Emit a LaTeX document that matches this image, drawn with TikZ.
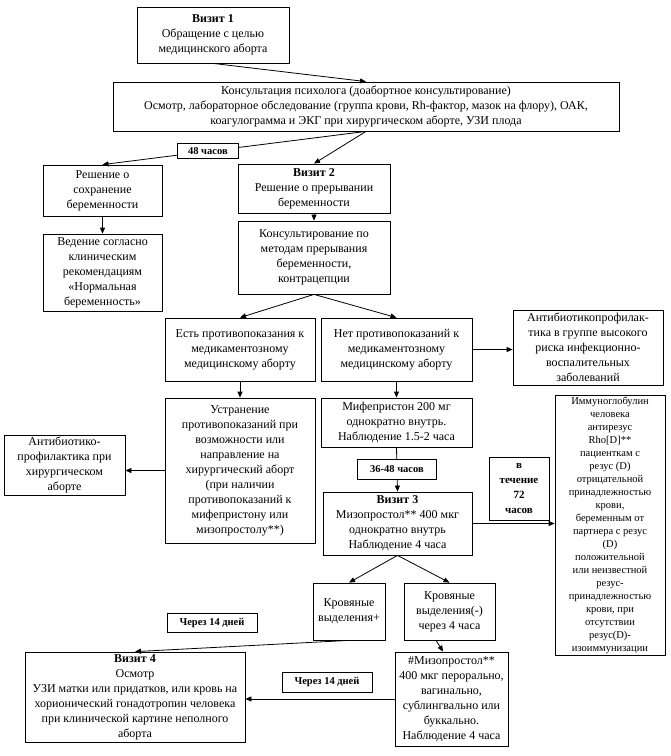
\documentclass[tikz,border=0pt]{standalone}
\usepackage{fontspec}
\setmainfont{Liberation Serif}
\usetikzlibrary{arrows.meta}

\tikzset{
  box/.style={draw,line width=.8pt,align=center,inner sep=0pt,
    font=\fontsize{12}{15}\selectfont},
  lbl/.style={draw,fill=white,line width=.8pt,inner sep=0pt,
    font=\fontsize{10.5}{13}\selectfont\bfseries},
  arr/.style={line width=.8pt,-{Triangle[length=6pt,width=5pt]}}
}

\begin{document}
\begin{tikzpicture}[x=1pt,y=-1pt]
  \useasboundingbox (0,0) rectangle (671,756);
  % visit 1 and counselling
  \node[box,minimum width=152pt,minimum height=56pt] (v1) at (213,35)
    {\textbf{Визит 1}\\Обращение с целью\\медицинского аборта};
  \node[box,minimum width=506pt,minimum height=49pt] (kons) at (366,106.5)
    {Консультация психолога (доабортное консультирование)\\
     Осмотр, лабораторное обследование (группа крови, Rh-фактор, мазок на флору), ОАК,\\
     коагулограмма и ЭКГ при хирургическом аборте, УЗИ плода};
  % left branch
  \node[box,minimum width=119pt,minimum height=51pt] (resh) at (102.5,190.5)
    {Решение о\\сохранение\\беременности};
  \node[box,minimum width=119pt,minimum height=77pt] (ved) at (102.5,272.5)
    {Ведение согласно\\клиническим\\рекомендациям\\«Нормальная\\беременность»};
  % visit 2
  \node[box,minimum width=152pt,minimum height=49pt] (v2) at (314,188.5)
    {\textbf{Визит 2}\\Решение о прерывании\\беременности};
  \node[box,minimum width=152pt,minimum height=73pt] (kmet) at (314,257.5)
    {Консультирование по\\методам прерывания\\беременности,\\контрацепции};
  \node[box,minimum width=150pt,minimum height=63pt] (est) at (240,349.5)
    {Есть противопоказания к\\медикаментозному\\медицинскому аборту};
  \node[box,minimum width=151pt,minimum height=63pt] (net) at (396.5,349.5)
    {Нет противопоказаний к\\медикаментозному\\медицинскому аборту};
  \node[box,minimum width=150pt,minimum height=75pt] (abr) at (588,347.5)
    {Антибиотикопрофилак-\\тика в группе высокого\\риска инфекционно-\\воспалительных\\заболеваний};
  \node[box,minimum width=150pt,minimum height=145pt] (ustr) at (240,470.5)
    {Устранение\\противопоказаний при\\возможности или\\направление на\\хирургический аборт\\(при наличии\\противопоказаний к\\мифепристону или\\мизопростолу**)};
  \node[box,minimum width=121pt,minimum height=60pt] (abl) at (64.5,465)
    {Антибиотико-\\профилактика при\\хирургическом\\аборте};
  \node[box,minimum width=151pt,minimum height=49pt] (mif) at (396.5,422.5)
    {Мифепристон 200 мг\\однократно внутрь.\\Наблюдение 1.5-2 часа};
  % visit 3
  \node[box,minimum width=149pt,minimum height=63pt] (v3) at (397.5,523.5)
    {\textbf{Визит 3}\\Мизопростол** 400 мкг\\однократно внутрь\\Наблюдение 4 часа};
  \node[box,minimum width=60pt,minimum height=63pt,font=\fontsize{11}{15}\selectfont\bfseries]
    (t72) at (519,488.5) {в\\течение\\72\\часов};
  \node[box,minimum width=110pt,minimum height=260pt,font=\fontsize{10.5}{13}\selectfont]
    (imm) at (610,525)
    {Иммуноглобулин\\человека\\антирезус\\Rho[D]**\\пациенткам с\\резус (D)\\отрицательной\\принадлежностью\\крови,\\беременным от\\партнера с резус\\(D)\\положительной\\или неизвестной\\резус-\\принадлежностью\\крови, при\\отсутствии\\резус(D)-\\изоиммунизации};
  \node[box,minimum width=72pt,minimum height=57pt] (krp) at (349,611.5)
    {Кровяные\\выделения+};
  \node[box,minimum width=91pt,minimum height=57pt] (krm) at (449.5,611.5)
    {Кровяные\\выделения(-)\\через 4 часа};
  % visit 4
  \node[box,minimum width=220pt,minimum height=90pt] (v4) at (135,697)
    {\textbf{Визит 4}\\Осмотр\\УЗИ матки или придатков, или кровь на\\хорионический гонадотропин человека\\при клинической картине неполного\\аборта};
  \node[box,minimum width=113pt,minimum height=94pt] (miso) at (451.5,699)
    {\#Мизопростол**\\400 мкг перорально,\\вагинально,\\сублингвально или\\буккально.\\Наблюдение 4 часа};
  \node[lbl,minimum width=90pt,minimum height=19pt] (c14a) at (212,622.5) {Через 14 дней};
  \node[lbl,minimum width=90pt,minimum height=20pt] (c14b) at (327,682) {Через 14 дней};
  % connectors
  \draw[arr] (v1.south) -- (kons.north);
  \draw[arr] (kons.south) -- node[lbl,pos=.6,minimum width=60pt,minimum height=15pt] (h48) {48 часов} (resh.north);
  \draw[arr] (kons.south) -- (v2.north);
  \draw[arr] (resh.south) -- (ved.north);
  \draw[arr] (v2.south) -- (kmet.north);
  \draw[arr] (kmet.south) -- (est.north);
  \draw[arr] (kmet.south) -- (net.north);
  \draw[arr] (net.east) -- (net.east -| abr.west);
  \draw[arr] (est.south) -- (ustr.north);
  \draw[arr] (net.south) -- (mif.north);
  \draw[arr] (ustr.west) -- (ustr.west -| abl.east);
  \draw[arr] (mif.south) -- node[lbl,minimum width=79pt,minimum height=20pt] (h36) {36-48 часов} (v3.north);
  \draw[arr] (v3.east) -- (v3.east -| imm.west);
  \draw[arr] (v3.south) -- (krp.north);
  \draw[arr] (v3.south) -- (krm.north);
  \draw[arr] (krp.south) -- (v4.north);
  \draw[arr] (krm.-115) -- (miso.100);
  \draw[arr] (miso.west) -- (miso.west -| v4.east);
\end{tikzpicture}
\end{document}
